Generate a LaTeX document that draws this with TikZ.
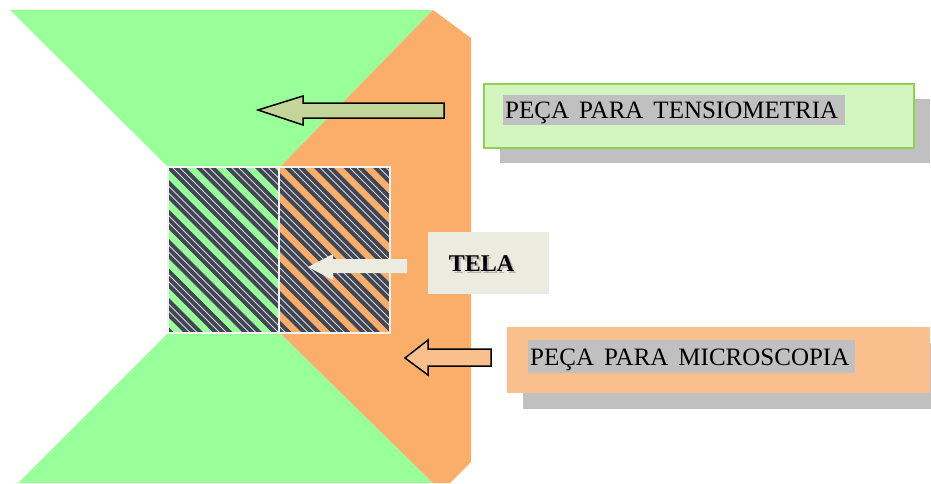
\documentclass[tikz,border=0pt]{standalone}
\usepackage{fontspec}
\setmainfont{Liberation Serif}
\newcommand\widewordgap{\spaceskip=10pt\relax}
\definecolor{pgreen}{HTML}{99FF99}
\definecolor{porange}{HTML}{FAAE6A}
\definecolor{agreen}{HTML}{C3D59B}
\definecolor{aorange}{HTML}{F9C08E}
\definecolor{beige}{HTML}{ECEBE0}
\definecolor{boxgreen}{HTML}{D3F5C0}
\definecolor{boxgreenline}{HTML}{8FD050}
\definecolor{shadowgray}{HTML}{C0C0C0}
\definecolor{hatchdark}{HTML}{414654}
\tikzset{
  blockarrow/.style={draw=black,line width=1.5pt,line join=miter},
  shadowbox/.style={fill=shadowgray},
  labeltext/.style={inner sep=0pt,font=\fontsize{25}{30}\selectfont},
  hilite/.style={fill=shadowgray}
}
\begin{document}
\begin{tikzpicture}[x=1pt,y=-1pt]
\useasboundingbox (0,0) rectangle (931,483);
% green pieces
\fill[pgreen] (10,10) -- (433,10) -- (280,167) -- (168,167) -- cycle;
\fill[pgreen] (168,333) -- (280,333) -- (433,483) -- (18,483) -- cycle;
\fill[pgreen] (168,167) rectangle (280,333);
% orange piece
\fill[porange] (280,167) -- (433,10) -- (471,38) -- (471,462) -- (450,483) -- (433,483) -- (280,333) -- cycle;
\fill[porange] (280,167) rectangle (390,333);
% hatching (tela)
\begin{scope}
\clip (168,167) rectangle (390,333);
\foreach \k in {-7,...,7} {
  \pgfmathsetmacro{\s}{205+29.5*\k}
  \draw[hatchdark,line width=14pt] (\s-40,127) -- (\s+206,373);
  \draw[white!70!gray,line width=1pt] (\s-43.5,127) -- (\s+202.5,373);
  \draw[white!70!gray,line width=1pt] (\s-36.5,127) -- (\s+209.5,373);
}
\end{scope}
\draw[white!90!gray,line width=1.2pt] (168,167) rectangle (279,333);
\draw[white!90!gray,line width=1.2pt] (279,167) rectangle (390,333);
% top arrow
\filldraw[blockarrow,fill=agreen] (258,110) -- (303,96) -- (303,103) -- (444,103) -- (444,118) -- (303,118) -- (303,125) -- cycle;
% middle arrow
\fill[beige] (308,267) -- (333,254) -- (333,259) -- (407,259) -- (407,273) -- (333,273) -- (333,280) -- cycle;
% bottom arrow
\filldraw[blockarrow,fill=aorange] (405,358) -- (428,340) -- (428,349) -- (491,349) -- (491,366) -- (428,366) -- (428,375) -- cycle;
% tensiometria box
\fill[shadowbox] (500,99) rectangle (930,163);
\node[draw=boxgreenline,line width=1.5pt,fill=boxgreen,minimum width=430pt,minimum height=64pt,inner sep=0pt,anchor=north west] (tens) at (483,83) {};
\fill[hilite] (503,95) rectangle (845,125);
\node[labeltext,anchor=base west] (tenstext) at (505,118.5) {\widewordgap PEÇA PARA TENSIOMETRIA};
% tela box
\node[fill=beige,minimum width=121pt,minimum height=62pt,inner sep=0pt,anchor=north west] (tela) at (428,232) {};
\node[inner sep=0pt,anchor=base,font=\fontsize{24}{28}\selectfont\bfseries] (telatext) at (481.5,271.5) {\makebox[0pt][l]{\hspace{2pt}\raisebox{-1.5pt}{\color{gray!60}TELA}}TELA};
% microscopia box
\fill[shadowbox] (523,343) rectangle (931,409);
\node[fill=aorange,minimum width=423pt,minimum height=66pt,inner sep=0pt,anchor=north west] (micro) at (507,327) {};
\fill[hilite] (528,340) rectangle (855,373);
\node[labeltext,anchor=base west] (microtext) at (530,365.5) {\widewordgap PEÇA PARA MICROSCOPIA};
\end{tikzpicture}
\end{document}
